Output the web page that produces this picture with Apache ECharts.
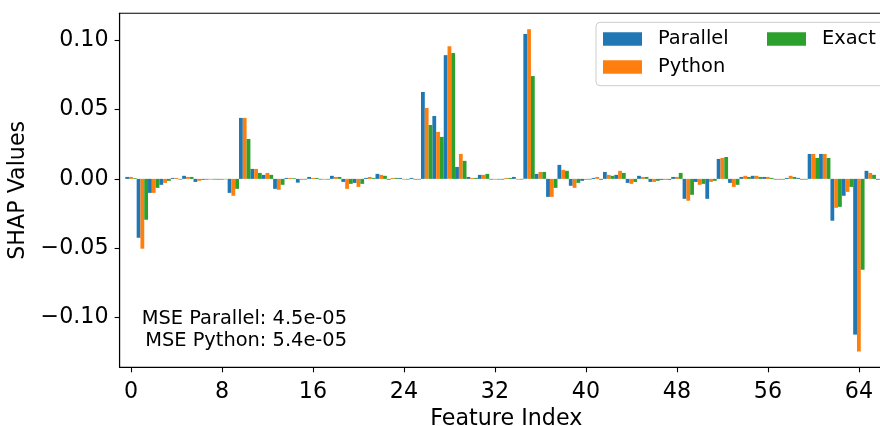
<!DOCTYPE html>
<html>
<head>
<meta charset="utf-8">
<script src="https://cdn.jsdelivr.net/npm/echarts@6/dist/echarts.min.js"></script>
<style>
html,body{margin:0;padding:0;background:#fff;}
#chart{width:880px;height:426px;}
</style>
</head>
<body>
<div id="chart"></div>
<script>
// ---- data ----
const features = [0,1,2,3,4,5,6,7,8,9,10,11,12,13,14,15,16,17,18,19,20,21,22,23,24,25,26,27,28,29,30,31,32,33,34,35,36,37,38,39,40,41,42,43,44,45,46,47,48,49,50,51,52,53,54,55,56,57,58,59,60,61,62,63,64,65,66];
const parallel = [0.0014,-0.0425,-0.0101,-0.0043,0.0007,0.0022,-0.0022,-0.0005,-0.0005,-0.0101,
  0.0440,0.0072,0.0029,-0.0072,0.0007,-0.0027,0.0014,-0.0005,0.0022,-0.0022,
  -0.0029,0.0007,0.0036,-0.0006,0.0007,0.0007,0.0627,0.0454,0.0893,0.0086,
  0.0014,0.0029,-0.0005,-0.0005,0.0014,0.1045,0.0036,-0.0130,0.0101,-0.0050,
  -0.0014,0.0007,0.0050,0.0029,-0.0029,0.0022,-0.0022,-0.0007,0.0014,-0.0144,
  -0.0022,-0.0144,0.0144,-0.0029,0.0014,0.0022,0.0014,-0.0005,0.0007,0.0007,
  0.0180,0.0180,-0.0302,-0.0122,-0.1124,0.0058,-0.0006];
const python = [0.0014,-0.0504,-0.0101,-0.0029,0.0007,0.0014,-0.0014,-0.0005,-0.0007,-0.0122,
  0.0440,0.0072,0.0043,-0.0079,0.0007,-0.0007,0.0007,-0.0005,0.0014,-0.0072,
  -0.0058,0.0014,0.0029,0.0007,-0.0005,-0.0007,0.0512,0.0339,0.0958,0.0180,
  0.0007,0.0029,-0.0005,0.0007,-0.0005,0.1080,0.0050,-0.0130,0.0065,-0.0065,
  -0.0007,0.0014,0.0029,0.0058,-0.0036,0.0014,-0.0022,-0.0007,0.0014,-0.0158,
  -0.0043,-0.0022,0.0151,-0.0058,0.0022,0.0022,0.0014,-0.0007,0.0022,-0.0007,
  0.0180,0.0180,-0.0209,-0.0094,-0.1246,0.0043,-0.0005];
const exact = [0.0005,-0.0295,-0.0065,-0.0014,-0.0005,0.0014,-0.0007,-0.0005,-0.0003,-0.0072,
  0.0288,0.0043,0.0029,-0.0043,0.0005,-0.0005,0.0007,-0.0005,0.0014,-0.0036,
  -0.0036,0.0007,0.0022,0.0007,-0.0005,-0.0005,0.0389,0.0303,0.0908,0.0130,
  0.0007,0.0036,-0.0005,0.0007,-0.0005,0.0742,0.0050,-0.0065,0.0058,-0.0029,
  -0.0005,-0.0007,0.0022,0.0043,-0.0022,0.0014,-0.0014,-0.0007,0.0043,-0.0115,
  -0.0036,-0.0014,0.0158,-0.0043,0.0014,0.0014,0.0007,-0.0005,0.0014,-0.0005,
  0.0151,0.0151,-0.0202,-0.0058,-0.0656,0.0029,-0.0005];
const xTicks = [0,8,16,24,32,40,48,56,64];
const yTicks = [-0.10,-0.05,0.00,0.05,0.10];
const seriesNames = ['Parallel','Python','Exact'];
const colors = ['#1f77b4','#ff7f0e','#2ca02c'];
const annotation = ['MSE Parallel: 4.5e-05','MSE Python: 5.4e-05'];

const FONT = 'DejaVu Sans';
const chart = echarts.init(document.getElementById('chart'), null, {renderer:'canvas'});
const values = [parallel, python, exact];

const option = {
  animation: false,
  backgroundColor: '#fff',
  grid: {left: 119.6, right: -13, top: 13.3, bottom: 58.7, show: true,
         outerBoundsMode: 'none', containLabel: false,
         borderColor: '#000', borderWidth: 1.1, backgroundColor: 'transparent'},
  xAxis: {
    type: 'value', min: -1, max: 67,
    axisLine: {show: true, onZero: false, lineStyle: {color: '#000', width: 1.1}},
    axisTick: {show: true, length: 5, customValues: xTicks, lineStyle: {color: '#000', width: 1.1}},
    axisLabel: {customValues: xTicks, fontSize: 22.2, fontFamily: FONT, color: '#000', margin: 14},
    splitLine: {show: false},
    name: 'Feature Index', nameLocation: 'middle', nameGap: 32.5,
    nameTextStyle: {fontSize: 22.2, fontFamily: FONT, color: '#000'}
  },
  yAxis: {
    type: 'value', min: -0.136, max: 0.1195,
    axisLine: {show: true, onZero: false, lineStyle: {color: '#000', width: 1.1}},
    axisTick: {show: true, length: 5, customValues: yTicks, lineStyle: {color: '#000', width: 1.1}},
    axisLabel: {customValues: yTicks, fontSize: 22.2, fontFamily: FONT, color: '#000', margin: 11,
      formatter: v => (v < -1e-9 ? '\u2212' : '') + Math.abs(v).toFixed(2)},
    splitLine: {show: false},
    name: 'SHAP Values', nameLocation: 'middle', nameGap: 82,
    nameTextStyle: {fontSize: 22.2, fontFamily: FONT, color: '#000'}
  },
  legend: [
    {data: ['Parallel','Python'], orient: 'vertical', left: 603, top: 29, padding: 0,
     itemWidth: 39, itemHeight: 13.6, itemGap: 8, icon: 'rect',
     textStyle: {fontSize: 19.4, fontFamily: FONT, color: '#000', lineHeight: 20, padding: [0,0,0,11]}},
    {data: ['Exact'], orient: 'vertical', left: 767, top: 29, padding: 0,
     itemWidth: 39, itemHeight: 13.6, itemGap: 8, icon: 'rect',
     textStyle: {fontSize: 19.4, fontFamily: FONT, color: '#000', lineHeight: 20, padding: [0,0,0,11]}}
  ],
  graphic: [
    {type: 'rect', z: 0, shape: {x: 596, y: 22.3, width: 300, height: 63.4, r: 4},
     style: {fill: 'rgba(255,255,255,0.8)', stroke: '#cccccc', lineWidth: 1}},
    {type: 'text', z: 10, x: 347, y: 308,
     style: {text: annotation.join('\n'), fontSize: 19.4, fontFamily: FONT, fill: '#000',
             textAlign: 'right', textVerticalAlign: 'top', lineHeight: 22}}
  ],
  series: seriesNames.map((name, s) => ({
    name: name, type: 'bar',
    data: features.map((f, i) => [f, values[s][i]]),
    barGap: '0%', barCategoryGap: '0%',
    itemStyle: {color: colors[s]},
    emphasis: {disabled: true}
  }))
};
chart.setOption(option);
</script>
</body>
</html>
